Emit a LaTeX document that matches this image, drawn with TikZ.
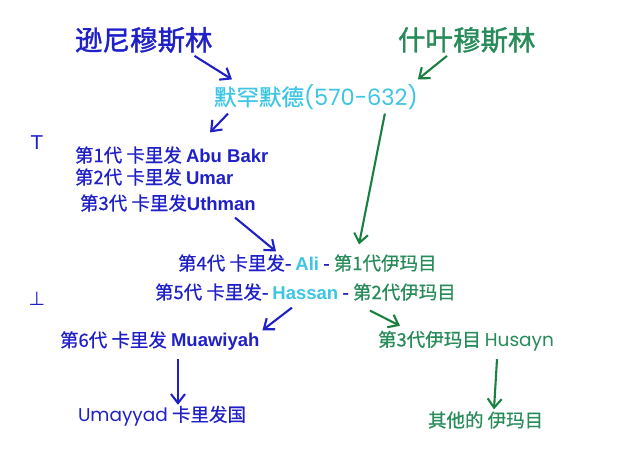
\documentclass[tikz,border=0pt]{standalone}
\usepackage{fontspec}
\setmainfont{Noto Sans CJK SC}[FakeBold=0.6]
\newfontfamily\titlefont{Noto Sans CJK SC}[FakeBold=1.4]
\newfontfamily\lat{Liberation Sans}
\newfontfamily\geo{Poppins}
\newfontfamily\dvs{DejaVu Sans}
\usetikzlibrary{arrows.meta,calc}
\definecolor{sunni}{RGB}{32,32,200}
\definecolor{cyanc}{RGB}{60,198,228}
\definecolor{shia}{RGB}{40,140,90}
\definecolor{shiaarrow}{RGB}{26,128,64}
\newcommand{\bl}[1]{{\lat\bfseries #1}}
\begin{document}
\begin{tikzpicture}[x=1pt,y=-1pt,
  every node/.style={inner sep=0pt,outer sep=0pt,anchor=west},
  titlestyle/.style={font=\fontsize{27.5}{30}\titlefont},
  linestyle/.style={font=\fontsize{18.5}{21}\selectfont,text=sunni},
  marker/.style={font=\fontsize{19}{20}\selectfont\dvs,text=sunni,anchor=center},
  arr/.style={line width=2.1pt,-{Straight Barb[length=9pt,width=14pt,line width=2.1pt]}},
  bluearr/.style={arr,draw=sunni},
  greenarr/.style={arr,draw=shiaarrow}]
\fill[white] (0,0) rectangle (640,464);
\useasboundingbox (0,0) rectangle (640,464);

\node[titlestyle,text=sunni] (sunni) at (75,40) {逊尼穆斯林};
\node[titlestyle,text=shia] (shia) at (398,40) {什叶穆斯林};
\node[font=\fontsize{22.5}{26}\selectfont,text=cyanc] (mhd) at (214,97) {默罕默德{\geo(570-632)}};

\node[marker] (top) at (37,143) {T};
\node[marker] (bot) at (37,299) {⊥};

\node[linestyle] (c1) at (75,155) {第1代 卡里发 \bl{Abu Bakr}};
\node[linestyle] (c2) at (75,177) {第2代 卡里发 \bl{Umar}};
\node[linestyle] (c3) at (80,203) {第3代 卡里发\bl{Uthman}};
\node[linestyle] (c4) at (178,263) {第4代 卡里发- {\color{cyanc}\bl{Ali}} - {\color{shia}第1代伊玛目}};
\node[linestyle] (c5) at (155,292) {第5代 卡里发- {\color{cyanc}\bl{Hassan}} - {\color{shia}第2代伊玛目}};
\node[linestyle] (c6) at (60,341) {第6代 卡里发 \bl{Muawiyah}};
\node[linestyle,text=shia] (h3) at (378,341) {第3代伊玛目 {\geo Husayn}};
\node[linestyle] (uma) at (78,416) {{\geo Umayyad} 卡里发国};
\node[linestyle,text=shia] (oth) at (428,420) {其他的 伊玛目};

\draw[bluearr] ($(sunni.south east)+(-18,3)$) -- ($(mhd.north west)+(18,-5)$);
\draw[greenarr] ($(shia.south west)+(49,3)$) -- ($(mhd.north east)+(0,-5)$);
\draw[bluearr] ($(mhd.south west)+(14,4)$) -- ($(c1.north west)+(135,-14)$);
\draw[greenarr] ($(mhd.south east)+(-33,4)$) -- ($(c4.north west)+(181,-10)$);
\draw[bluearr] ($(c3.south west)+(155,6)$) -- ($(c4.north west)+(98,-3)$);
\draw[bluearr] ($(c5.south west)+(137,7)$) -- ($(c6.north east)+(3,-1)$);
\draw[greenarr] ($(c5.south west)+(215,10)$) -- ($(h3.north west)+(22,-5)$);
\draw[bluearr] ($(c6.south west)+(118,8)$) -- ($(uma.north west)+(100,-1)$);
\draw[greenarr] ($(h3.south west)+(119,8)$) -- ($(oth.north west)+(66,-2)$);
\end{tikzpicture}
\end{document}
